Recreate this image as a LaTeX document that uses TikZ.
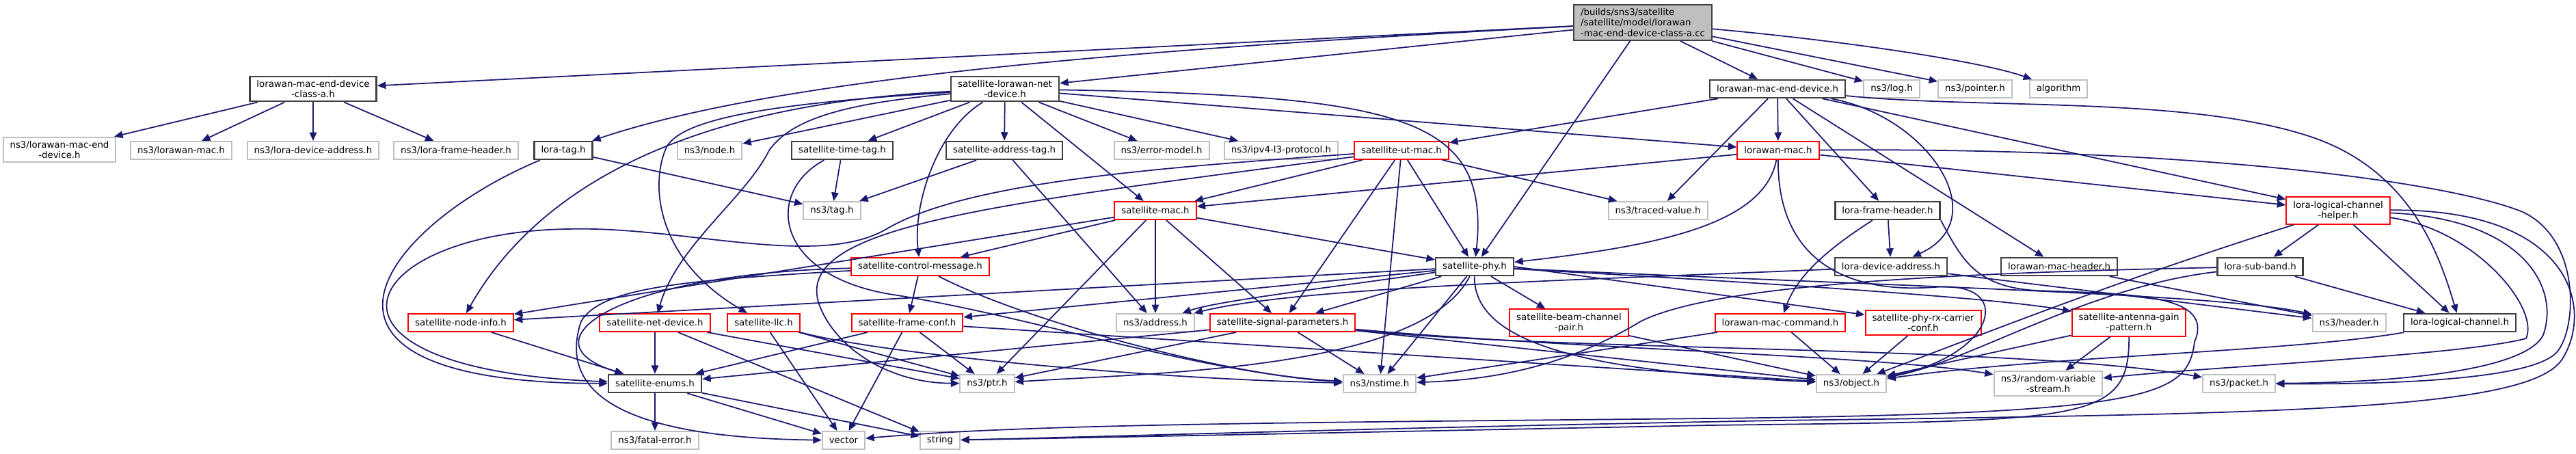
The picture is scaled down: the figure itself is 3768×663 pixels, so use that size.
\documentclass[tikz,border=0pt]{standalone}
\usepackage{fontspec}
\newfontfamily\dejavu{DejaVu Sans}
\usetikzlibrary{arrows.meta}
\definecolor{edgeblue}{HTML}{191970}
\definecolor{boxgray}{HTML}{BFBFBF}
\definecolor{boxred}{HTML}{FF0000}
\begin{document}
\begin{tikzpicture}[x=0.1mm, y=-0.1mm,
  hdr/.style={draw=black!75, line width=0.25mm, fill=white, font=\dejavu\fontsize{3.8}{4.3}\selectfont,
    inner xsep=1mm, inner ysep=0.55mm, minimum height=2.6mm, align=center},
  sysh/.style={hdr, draw=boxgray, line width=0.2mm},
  trunc/.style={hdr, draw=boxred, line width=0.2mm},
  mainfile/.style={hdr, fill=boxgray, align=left, minimum width=20.1mm},
  edge/.style={draw=edgeblue, line width=0.5pt, -{Triangle[length=1.25mm, width=1.05mm]}}]
\path[fill=white] (0,0) rectangle (3768,663);
\useasboundingbox (0,0) rectangle (3768,663);
% row 0 and 1
\node[mainfile] (main) at (2403,33) {/builds/sns3/satellite\\/satellite/model/lorawan\\-mac-end-device-class-a.cc};
\node[hdr] (classa) at (458,130) {lorawan-mac-end-device\\-class-a.h};
\node[hdr] (sln) at (1470,130) {satellite-lorawan-net\\-device.h};
\node[hdr] (lmed) at (2600,130) {lorawan-mac-end-device.h};
\node[sysh] (nlog) at (2767,130) {ns3/log.h};
\node[sysh] (npointer) at (2889,130) {ns3/pointer.h};
\node[sysh] (algo) at (3011,130) {algorithm};
% row 2
\node[sysh] (nlmed) at (87,219) {ns3/lorawan-mac-end\\-device.h};
\node[sysh] (nlm) at (265,220) {ns3/lorawan-mac.h};
\node[sysh] (nlda) at (458,220) {ns3/lora-device-address.h};
\node[sysh] (nlfh) at (667,220) {ns3/lora-frame-header.h};
\node[hdr] (loratag) at (824,220) {lora-tag.h};
\node[sysh] (nnode) at (1038,220) {ns3/node.h};
\node[hdr] (timetag) at (1232,220) {satellite-time-tag.h};
\node[hdr] (addrtag) at (1469,220) {satellite-address-tag.h};
\node[sysh] (errmodel) at (1699,220) {ns3/error-model.h};
\node[sysh] (ipv4) at (1874,220) {ns3/ipv4-l3-protocol.h};
\node[trunc] (utmac) at (2050,220) {satellite-ut-mac.h};
\node[trunc] (lmac) at (2601,220) {lorawan-mac.h};
% row 3
\node[sysh] (ntag) at (1217,308) {ns3/tag.h};
\node[trunc] (smac) at (1690,308) {satellite-mac.h};
\node[sysh] (traced) at (2425,308) {ns3/traced-value.h};
\node[hdr] (lfh) at (2761,308) {lora-frame-header.h};
\node[trunc] (lch) at (3420,308) {lora-logical-channel\\-helper.h};
% row 4
\node[trunc] (ctrl) at (1346,390) {satellite-control-message.h};
\node[hdr] (sphy) at (2157,390) {satellite-phy.h};
\node[hdr] (lda) at (2766,390) {lora-device-address.h};
\node[hdr] (lmh) at (3012,390) {lorawan-mac-header.h};
\node[hdr] (lsb) at (3306,390) {lora-sub-band.h};
% row 5
\node[trunc] (ninfo) at (674,472) {satellite-node-info.h};
\node[trunc] (snd) at (958,472) {satellite-net-device.h};
\node[trunc] (llc) at (1117,472) {satellite-llc.h};
\node[trunc] (fconf) at (1327,472) {satellite-frame-conf.h};
\node[sysh] (naddr) at (1690,472) {ns3/address.h};
\node[trunc] (sigpar) at (1876,472) {satellite-signal-parameters.h};
\node[trunc] (bcp) at (2295,472) {satellite-beam-channel\\-pair.h};
\node[trunc] (lmcmd) at (2604,472) {lorawan-mac-command.h};
\node[trunc] (rxconf) at (2813,472) {satellite-phy-rx-carrier\\-conf.h};
\node[trunc] (antgain) at (3114,472) {satellite-antenna-gain\\-pattern.h};
\node[sysh] (nheader) at (3436,472) {ns3/header.h};
\node[hdr] (llchan) at (3598,472) {lora-logical-channel.h};
% row 6 and 7
\node[hdr] (enums) at (958,561) {satellite-enums.h};
\node[sysh] (nptr) at (1444,561) {ns3/ptr.h};
\node[sysh] (nstime) at (2018,561) {ns3/nstime.h};
\node[sysh] (nobject) at (2708,561) {ns3/object.h};
\node[sysh] (nrvs) at (2996,561) {ns3/random-variable\\-stream.h};
\node[sysh] (npacket) at (3275,561) {ns3/packet.h};
\node[sysh] (fatal) at (958,644) {ns3/fatal-error.h};
\node[sysh] (vec) at (1234,644) {vector};
\node[sysh] (str) at (1375,644) {string};

% includes of the .cc file
\draw[edge] (main) -- (classa);
\draw[edge] (main) -- (sln);
\draw[edge] (main) .. controls (1700,70) and (1150,110) .. (loratag);
\draw[edge] (main) -- (lmed);
\draw[edge] (main) -- (nlog);
\draw[edge] (main) -- (npointer);
\draw[edge] (main) .. controls (2700,60) and (2900,90) .. (algo);
\draw[edge] (main) -- (sphy);
% class-a header
\draw[edge] (classa) -- (nlmed);
\draw[edge] (classa) -- (nlm);
\draw[edge] (classa) -- (nlda);
\draw[edge] (classa) -- (nlfh);
% tags
\draw[edge] (loratag) -- (ntag);
\draw[edge] (loratag) .. controls (560,330) and (380,560) .. (enums);
\draw[edge] (timetag) -- (ntag);
\draw[edge] (timetag) .. controls (1120,280) and (1130,400) .. (1300,430)
  .. controls (1500,460) and (1750,545) .. (nstime);
\draw[edge] (addrtag) -- (ntag);
\draw[edge] (addrtag) -- (naddr);
% lorawan net device
\draw[edge] (sln) -- (addrtag);
\draw[edge] (sln) -- (errmodel);
\draw[edge] (sln) -- (ipv4);
\draw[edge] (sln) -- (smac);
\draw[edge] (sln) -- (lmac);
\draw[edge] (sln) -- (timetag);
\draw[edge] (sln) -- (nnode);
\draw[edge] (sln) .. controls (2050,140) and (2180,170) .. (sphy);
\draw[edge] (sln) .. controls (1370,190) and (1335,300) .. (ctrl);
\draw[edge] (sln) .. controls (1050,150) and (800,250) .. (ninfo);
\draw[edge] (sln) .. controls (1150,150) and (1000,170) .. (975,215)
  .. controls (950,270) and (960,380) .. (llc);
\draw[edge] (sln) .. controls (1250,150) and (1160,170) .. (1125,220)
  .. controls (1090,290) and (990,360) .. (snd);
% end device
\draw[edge] (lmed) -- (utmac);
\draw[edge] (lmed) -- (lmac);
\draw[edge] (lmed) -- (traced);
\draw[edge] (lmed) -- (lfh);
\draw[edge] (lmed) .. controls (2820,170) and (2920,320) .. (lda);
\draw[edge] (lmed) -- (lmh);
\draw[edge] (lmed) -- (lch);
\draw[edge] (lmed) .. controls (2900,160) and (3200,140) .. (3380,200)
  .. controls (3530,250) and (3570,380) .. (llchan);
% ut mac
\draw[edge] (utmac) -- (smac);
\draw[edge] (utmac) -- (traced);
\draw[edge] (utmac) -- (sphy);
\draw[edge] (utmac) -- (nstime);
\draw[edge] (utmac) -- (sigpar);
\draw[edge] (utmac) .. controls (1450,300) and (1150,330) .. (1200,450)
  .. controls (1225,510) and (1300,560) .. (nptr);
\draw[edge] (utmac) .. controls (1700,245) and (1420,265) .. (1300,333)
  .. controls (1200,395) and (1000,330) .. (830,335)
  .. controls (520,340) and (420,540) .. (enums);
% lorawan mac
\draw[edge] (lmac) -- (smac);
\draw[edge] (lmac) .. controls (2580,330) and (2420,360) .. (sphy);
\draw[edge] (lmac) -- (lch);
\draw[edge] (lmac) .. controls (2600,380) and (2700,430) .. (2830,420)
  .. controls (2950,410) and (2920,520) .. (nobject);
\draw[edge] (lmac) .. controls (3200,215) and (3580,265) .. (3690,310)
  .. controls (3775,350) and (3770,480) .. (3740,515)
  .. controls (3700,560) and (3450,562) .. (npacket);
% satellite mac
\draw[edge] (smac) -- (ctrl);
\draw[edge] (smac) -- (sphy);
\draw[edge] (smac) -- (naddr);
\draw[edge] (smac) -- (sigpar);
\draw[edge] (smac) -- (nptr);
\draw[edge] (smac) -- (ninfo);
% control message
\draw[edge] (ctrl) -- (fconf);
\draw[edge] (ctrl) .. controls (900,400) and (760,500) .. (enums);
\draw[edge] (ctrl) .. controls (1000,410) and (880,420) .. (850,470)
  .. controls (820,560) and (880,640) .. (vec);
\draw[edge] (ctrl) .. controls (1500,470) and (1800,550) .. (nstime);
% satellite phy
\draw[edge] (sphy) -- (ninfo);
\draw[edge] (sphy) .. controls (1950,420) and (1780,440) .. (naddr);
\draw[edge] (sphy) -- (fconf);
\draw[edge] (sphy) -- (sigpar);
\draw[edge] (sphy) -- (bcp);
\draw[edge] (sphy) .. controls (2080,540) and (1700,545) .. (nptr);
\draw[edge] (sphy) -- (nstime);
\draw[edge] (sphy) .. controls (2155,510) and (2350,545) .. (nobject);
\draw[edge] (sphy.east) -- (rxconf);
\draw[edge] (sphy) .. controls (2700,420) and (2950,440) .. (antgain);
\draw[edge] (sphy) .. controls (2800,420) and (3250,430) .. (nheader);
% frame conf, net device, llc
\draw[edge] (fconf) -- (enums);
\draw[edge] (fconf) -- (vec);
\draw[edge] (fconf) -- (nptr);
\draw[edge] (fconf) -- (nobject);
\draw[edge] (ninfo) -- (enums);
\draw[edge] (snd) -- (enums);
\draw[edge] (snd) -- (str);
\draw[edge] (snd) -- (nptr);
\draw[edge] (llc) -- (vec);
\draw[edge] (llc) -- (nptr);
\draw[edge] (llc) .. controls (1300,520) and (1700,555) .. (nstime);
% signal parameters
\draw[edge] (sigpar) -- (nptr);
\draw[edge] (sigpar) -- (enums);
\draw[edge] (sigpar) -- (nstime);
\draw[edge] (sigpar) -- (nobject);
\draw[edge] (sigpar) .. controls (2300,510) and (2750,520) .. (nrvs);
\draw[edge] (sigpar) .. controls (2300,515) and (2950,505) .. (npacket);
% lower right headers
\draw[edge] (bcp) -- (nobject);
\draw[edge] (lmcmd) -- (nobject);
\draw[edge] (lmcmd) -- (nstime);
\draw[edge] (rxconf) -- (nobject);
\draw[edge] (antgain) -- (nobject);
\draw[edge] (antgain) -- (nrvs);
\draw[edge] (antgain) .. controls (3115,620) and (3050,615) .. (2500,622)
  .. controls (2000,632) and (1600,640) .. (str);
\draw[edge] (lfh) -- (lda);
\draw[edge] (lfh) .. controls (2680,360) and (2630,400) .. (lmcmd);
\draw[edge] (lfh.south east) .. controls (2870,380) and (2890,420) .. (2980,425)
  .. controls (3120,430) and (3240,430) .. (3210,500)
  .. controls (3200,580) and (3150,605) .. (2500,612)
  .. controls (1900,618) and (1500,620) .. (vec);
\draw[edge] (lda) -- (nheader);
\draw[edge] (lda) .. controls (2300,410) and (1900,420) .. (naddr);
\draw[edge] (lmh) -- (nheader);
\draw[edge] (lsb) -- (llchan);
\draw[edge] (lsb) .. controls (3050,420) and (2880,530) .. (nobject);
\draw[edge] (lsb) .. controls (2800,400) and (2500,420) .. (2400,470)
  .. controls (2300,530) and (2200,555) .. (nstime);
\draw[edge] (llchan) .. controls (3350,515) and (3000,520) .. (nobject);
% channel helper
\draw[edge] (lch) -- (lsb);
\draw[edge] (lch) -- (llchan);
\draw[edge] (lch) .. controls (3100,410) and (2950,470) .. (nobject);
\draw[edge] (lch) .. controls (3620,335) and (3715,450) .. (3695,495)
  .. controls (3600,520) and (3250,535) .. (nrvs);
\draw[edge] (lch) .. controls (3690,320) and (3745,420) .. (3720,490)
  .. controls (3690,550) and (3450,560) .. (npacket);
\draw[edge] (lch) .. controls (3760,305) and (3795,450) .. (3748,525)
  .. controls (3700,600) and (3350,605) .. (2600,615)
  .. controls (2000,626) and (1650,638) .. (str);
% enums
\draw[edge] (enums) -- (fatal);
\draw[edge] (enums) -- (vec);
\draw[edge] (enums) -- (str);
\end{tikzpicture}
\end{document}
